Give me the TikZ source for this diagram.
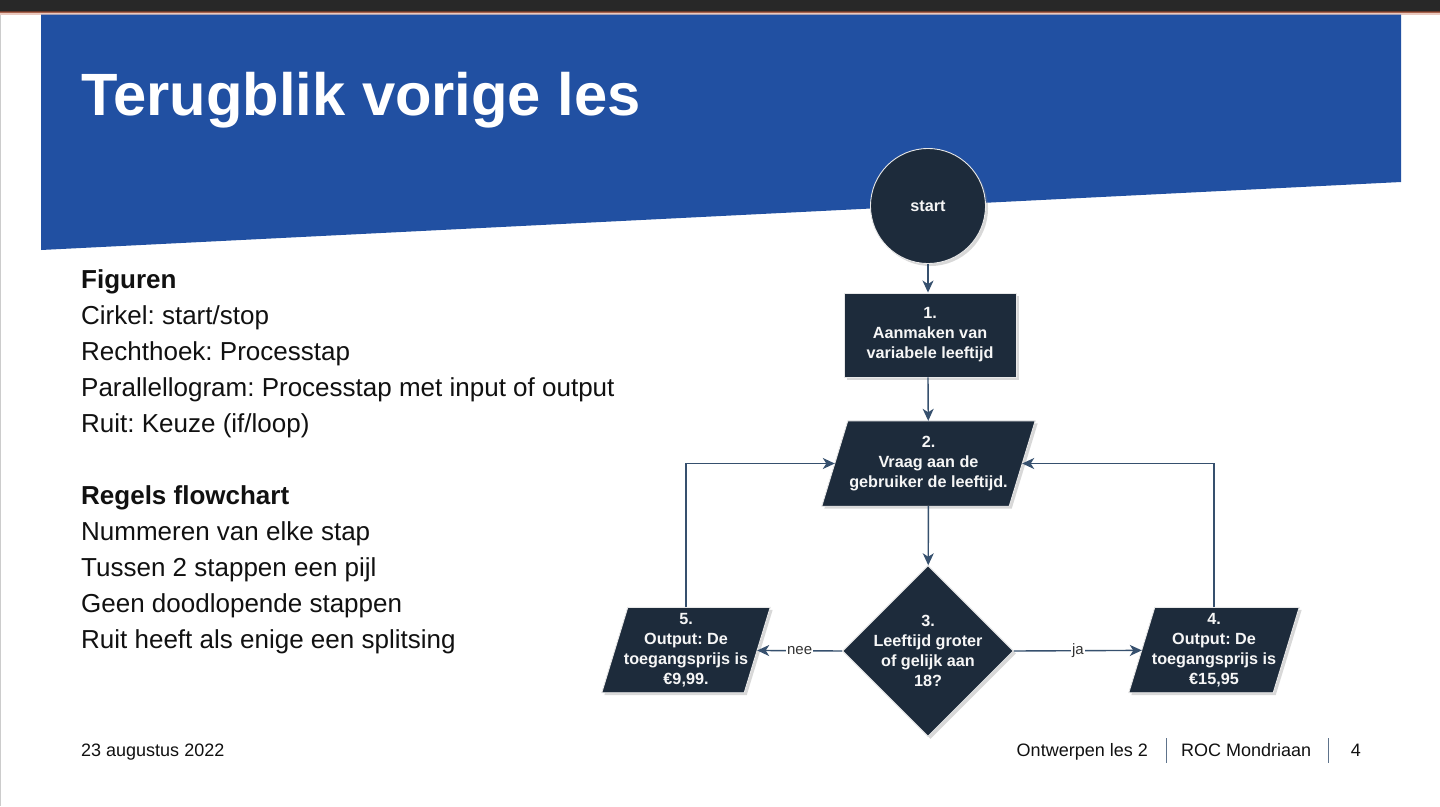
\documentclass[tikz,border=0pt]{standalone}
\usepackage{fontspec}
\setmainfont{Liberation Sans}
\usetikzlibrary{shapes.geometric,arrows.meta,shadows}
\pgfdeclarelayer{pagebg}
\pgfdeclarelayer{frames}
\pgfsetlayers{pagebg,frames,main}
\frenchspacing

\definecolor{slideblue}{HTML}{2150A2}
\definecolor{shapefill}{HTML}{1D2B3B}
\definecolor{linkcol}{HTML}{36506E}
\definecolor{topbar}{HTML}{282828}
\definecolor{edgeA}{HTML}{6B3A2C}
\definecolor{edgeB}{HTML}{A8654F}
\definecolor{edgeC}{HTML}{EBC9BF}
\definecolor{bodytext}{HTML}{111111}

\tikzset{
  shapelook/.style={fill=shapefill, draw=white!82!gray, line width=0.9pt,
    drop shadow={shadow xshift=2.5pt, shadow yshift=-2.5pt, opacity=0.3}},
  flowtext/.style={text=white!93!gray, align=center, inner sep=0pt,
    font=\bfseries\fontsize{16.2}{20}\selectfont},
  flowshape/.style={shapelook, flowtext},
  startcircle/.style={flowshape, circle, minimum size=115pt},
  procbox/.style={flowshape, rectangle, minimum width=172pt, minimum height=84pt},
  % text area of a parallelogram; its width is the width at mid-height
  iobox/.style={flowtext, rectangle, minimum height=85pt},
  choice/.style={shapelook, diamond, aspect=1, inner sep=0pt,
    minimum width=171pt, minimum height=171pt},
  link/.style={draw=linkcol, line width=1.4pt,
    -{Stealth[length=12pt,width=11pt,inset=3.5pt]}},
  edgelabel/.style={fill=white, inner sep=1pt, text=black!80,
    font=\fontsize{15}{15}\selectfont},
  bullet/.style={anchor=base west, inner sep=0pt, text=bodytext,
    font=\fontsize{26}{30}\selectfont},
  bullethead/.style={bullet, font=\bfseries\fontsize{26}{30}\selectfont},
  footer/.style={inner sep=0pt, text=bodytext, font=\fontsize{18}{20}\selectfont},
}

% parallelogram drawn around a named text area, slanted by 2*13pt
\newcommand{\ioframe}[1]{%
  \path[shapelook] ([xshift=13pt]#1.north west) -- ([xshift=13pt]#1.north east)
    -- ([xshift=-13pt]#1.south east) -- ([xshift=-13pt]#1.south west) -- cycle;}

\begin{document}
\begin{tikzpicture}[x=1pt,y=-1pt]
\useasboundingbox (0,0) rectangle (1440,806);
% page and header band
\begin{pgfonlayer}{pagebg}
\fill[white] (0,0) rectangle (1440,806);
\draw[gray!40, line width=0.8pt] (0.4,14) -- (0.4,806);
\fill[topbar] (0,0) rectangle (1440,10.5);
\fill[edgeA] (0,10.5) rectangle (1440,12);
\fill[edgeB] (0,12) rectangle (1440,13.2);
\fill[edgeC] (0,13.2) rectangle (1440,14.6);
\fill[slideblue] (41,14.6) -- (1401,14.6) -- (1401,182) -- (41,250) -- cycle;
\end{pgfonlayer}

\node[anchor=base west, inner sep=0pt, text=white,
  font=\bfseries\fontsize{59.7}{60}\selectfont] (title) at (81,115) {Terugblik vorige les};

% left column text
\node[bullethead] (f0) at (81,288) {Figuren};
\node[bullet] (f1) at (81,324) {Cirkel: start/stop};
\node[bullet] (f2) at (81,360) {Rechthoek: Processtap};
\node[bullet] (f3) at (81,396) {Parallellogram: Processtap met input of output};
\node[bullet] (f4) at (81,432) {Ruit: Keuze (if/loop)};
\node[bullethead] (r0) at (81,504) {Regels flowchart};
\node[bullet] (r1) at (81,540) {Nummeren van elke stap};
\node[bullet] (r2) at (81,576) {Tussen 2 stappen een pijl};
\node[bullet] (r3) at (81,612) {Geen doodlopende stappen};
\node[bullet] (r4) at (81,648) {Ruit heeft als enige een splitsing};

% flowchart
\node[startcircle] (s) at (928,206) {start};
\node[procbox] (n1) at (930,335) {1.\\Aanmaken van\\variabele leeftijd};
\node[iobox, minimum width=187pt] (n2) at (928.5,463.5) {2.\\Vraag aan de\\gebruiker de leeftijd.};
\node[choice] (d3) at (928,651) {};
\node[flowtext] (d3text) at (d3) {3.\\Leeftijd groter\\of gelijk aan\\18?};
\node[iobox, minimum width=142pt] (n5) at (686,650) {5.\\Output: De\\toegangsprijs is\\€9,99.};
\node[iobox, minimum width=144pt] (n4) at (1214,650) {4.\\Output: De\\toegangsprijs is\\€15,95};

\begin{pgfonlayer}{frames}
  \ioframe{n2}
  \ioframe{n5}
  \ioframe{n4}
\end{pgfonlayer}

\draw[link] (s) -- (s |- n1.north);
\draw[link] (n1.south -| s) -- (n2);
\draw[link] (n2) -- (d3);
\draw[link] (d3.west) -- node[edgelabel] (lnee) {nee} (n5);
\draw[link] (d3.east) -- node[edgelabel] (lja) {ja} (n4);
\draw[link] (n5) |- (n2);
\draw[link] (n4) |- (n2);

% footer
\node[footer, anchor=base west] (date) at (81,756) {23 augustus 2022};
\node[footer, anchor=base east] (course) at (1148,756) {Ontwerpen les 2};
\node[footer, anchor=base west] (school) at (1181,756) {ROC Mondriaan};
\node[footer, anchor=base east] (page) at (1361,756) {4};
\draw[linkcol!80, line width=0.8pt] (1166,738) -- (1166,763);
\draw[linkcol!80, line width=0.8pt] (1328,738) -- (1328,763);
\end{tikzpicture}
\end{document}
